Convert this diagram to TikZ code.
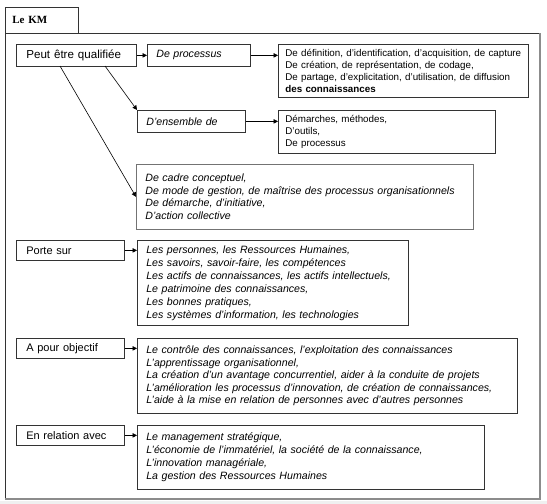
\documentclass[tikz,border=0pt]{standalone}
\usepackage{fontspec}
\setmainfont{Liberation Sans}
\newfontfamily\kmserif{Liberation Serif}
\usetikzlibrary{arrows.meta}
\begin{document}
\begin{tikzpicture}[x=1pt,y=-1pt,
  bx/.style={draw=black!80, line width=0.7pt, anchor=north west, inner xsep=9pt, inner ysep=0pt, align=left, font=\fontsize{9.8}{12.2}\selectfont},
  graybx/.style={bx, draw=black!55},
  lab/.style={bx, inner xsep=10pt, font=\fontsize{11}{13}\selectfont},
  itx/.style={font=\itshape\fontsize{10.6}{#1}\selectfont},
  arr/.style={-{Triangle[length=4.5pt,width=4.5pt]}, line width=0.6pt}]
\useasboundingbox (0,0) rectangle (547,504);
\fill[black!6] (0,501) rectangle (547,504);
% frame
\draw[black!80, line width=0.8pt] (5,499) -- (5,33) -- (540,33);
\draw[black!45, line width=1.6pt] (540,33) -- (540,499) -- (5,499);
\node[draw=black!80, line width=0.8pt, anchor=north west, minimum width=73pt, minimum height=26pt, text width=59pt, inner xsep=7pt, inner ysep=0pt, align=left, font=\kmserif\bfseries\fontsize{11}{12}\selectfont] (tab) at (5,7) {Le KM};
% row 1
\node[lab, text width=100pt, minimum height=22pt, font=\fontsize{11.6}{13}\selectfont] (peut) at (16,44) {Peut être qualifiée};
\node[bx, text width=85pt, minimum height=22pt, itx=12] (dproc) at (147,44) {De processus};
\node[bx, inner xsep=7pt, text width=236pt, minimum height=53pt] (rb) at (278,44) {De définition, d'identification, d'acquisition, de capture\\De création, de représentation, de codage,\\De partage, d'explicitation, d'utilisation, de diffusion\\\textbf{des connaissances}};
\node[bx, text width=90pt, minimum height=22pt, itx=12] (ens) at (137,110) {D'ensemble de};
\node[bx, inner xsep=7pt, text width=203pt, minimum height=43pt] (dem) at (278,110) {Démarches, méthodes,\\D'outils,\\De processus};
\node[graybx, text width=319pt, minimum height=65pt, itx=12.6] (cadre) at (136,164) {De cadre conceptuel,\\De mode de gestion, de maîtrise des processus organisationnels\\De démarche, d'initiative,\\D'action collective};
% row 2
\node[lab, text width=88pt, minimum height=20pt] (porte) at (16,240) {Porte sur};
\node[bx, text width=253pt, minimum height=85pt, itx=13] (portec) at (137,240) {Les personnes, les Ressources Humaines,\\Les savoirs, savoir-faire, les compétences\\Les actifs de connaissances, les actifs intellectuels,\\Le patrimoine des connaissances,\\Les bonnes pratiques,\\Les systèmes d'information, les technologies};
% row 3
\node[lab, text width=88pt, minimum height=20pt] (obj) at (16,338) {A pour objectif};
\node[bx, text width=362pt, minimum height=75pt, itx=12.4] (objc) at (137,338) {Le contrôle des connaissances, l'exploitation des connaissances\\L'apprentissage organisationnel,\\La création d'un avantage concurrentiel, aider à la conduite de projets\\L'amélioration les processus d'innovation, de création de connaissances,\\L'aide à la mise en relation de personnes avec d'autres personnes};
% row 4
\node[lab, text width=88pt, minimum height=20pt] (rel) at (16,425) {En relation avec};
\node[bx, text width=329pt, minimum height=64pt, itx=13] (relc) at (137,425) {Le management stratégique,\\L'économie de l'immatériel, la société de la connaissance,\\L'innovation managériale,\\La gestion des Ressources Humaines};
% connectors
\draw[arr] (peut.east) -- (dproc.west);
\draw[arr] (dproc.east) -- (dproc.east -| rb.west);
\draw[arr] (ens.east) -- (ens.east -| dem.west);
\coordinate (pa) at (105,66);
\coordinate (pb) at (60,66);
\draw[arr] (pa) -- (ens.north west);
\draw[arr] (pb) -- (cadre.west);
\draw[arr] (porte.east) -- (porte.east -| portec.west);
\draw[arr] (obj.east) -- (obj.east -| objc.west);
\draw[arr] (rel.east) -- (rel.east -| relc.west);
\end{tikzpicture}
\end{document}
